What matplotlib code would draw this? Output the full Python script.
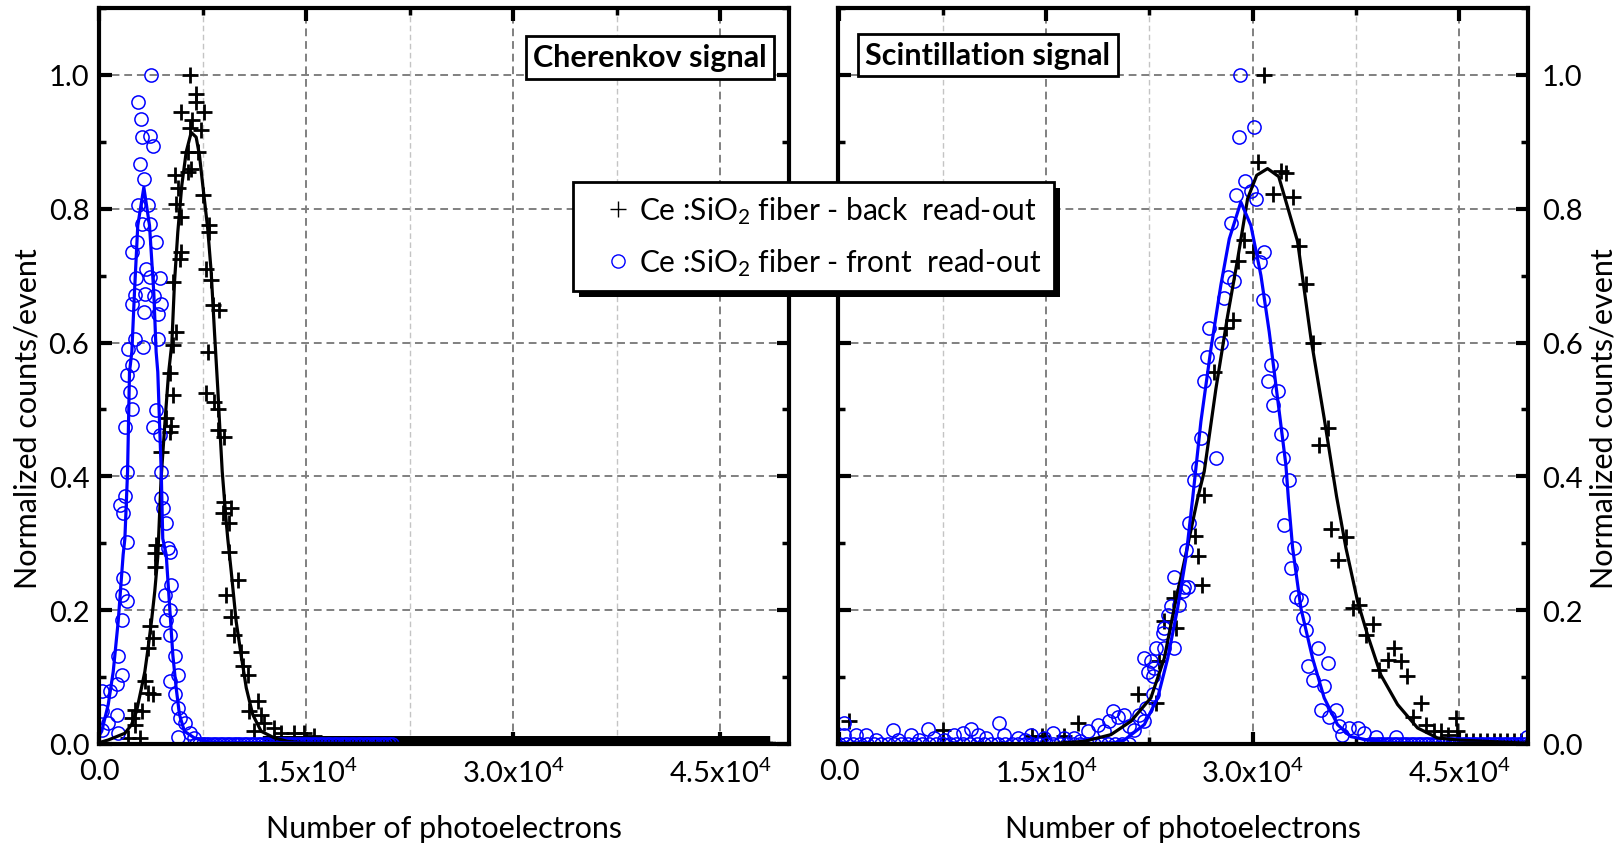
import matplotlib
matplotlib.use('Agg')
import matplotlib.pyplot as plt
from matplotlib.ticker import MultipleLocator, FixedLocator, FixedFormatter, FormatStrFormatter
from matplotlib.patches import Rectangle
from matplotlib.lines import Line2D

plt.rcParams['font.family'] = ['Lato', 'DejaVu Sans']
plt.rcParams['mathtext.fontset'] = 'custom'
plt.rcParams['mathtext.rm'] = 'Lato'
plt.rcParams['mathtext.it'] = 'Lato:italic'
plt.rcParams['mathtext.bf'] = 'Lato:bold'

# ---------------- data: Cherenkov signal (left panel) ----------------
ch_front_x = [195, 195, 195, 670, 790, 1275, 1275, 1390, 1390, 1635, 1635, 1635, 1750, 2000, 2000,
              1515, 1750, 1875, 2000, 1875, 2000, 2235, 2360, 2360, 2110, 2600, 2360, 2600, 2670,
              2360, 2720, 2790, 3080, 2960, 3245, 3030, 2790, 3150, 3800, 3680, 3920, 3555, 3680,
              4160, 3440, 3680, 4400, 3320, 3990, 3270, 4470, 4280, 3200, 4280, 4160, 3920, 4400,
              4520, 4520, 4640, 4880, 5000, 5120, 5240, 4760, 5120, 4880, 5120, 5480, 5720, 5120,
              5480, 5720, 5840, 6200, 6560, 5720, 6920]
ch_front_y = [0.079, 0.049, 0.021, 0.031, 0.079, 0.089, 0.044, 0.016, 0.131, 0.103, 0.186, 0.223, 0.248,
              0.213, 0.302, 0.357, 0.345, 0.370, 0.407, 0.474, 0.551, 0.526, 0.500, 0.566, 0.591,
              0.606, 0.658, 0.671, 0.696, 0.736, 0.751, 0.805, 0.777, 0.867, 0.844, 0.934, 0.959,
              0.907, 1.000, 0.909, 0.894, 0.805, 0.777, 0.750, 0.710, 0.698, 0.696, 0.673, 0.669,
              0.646, 0.658, 0.643, 0.593, 0.606, 0.499, 0.474, 0.462, 0.407, 0.367, 0.352, 0.330,
              0.293, 0.287, 0.238, 0.223, 0.200, 0.186, 0.163, 0.131, 0.103, 0.094, 0.074, 0.054,
              0.039, 0.031, 0.016, 0.011, 0.009]
# empty bins (count 0) of the front read-out, Cherenkov
ch_front_zero_x = [7000, 7250, 7500, 7750, 8000, 8250, 8500, 8750, 9000, 9250, 9500, 9750,
                   10000, 10250, 10500, 10750, 11000, 11250, 11500, 11750, 12000, 12250, 12500,
                   12750, 13000, 13250, 13500, 13750, 14000, 14250, 14500, 14750, 15000, 15250,
                   15500, 15750, 16000, 16250, 16500, 16750, 17000, 17250, 17500, 17750, 18000,
                   18250, 18500, 18750, 19000, 19250, 19500, 19750, 20000, 20250, 20500, 20750,
                   21000, 21250]

ch_back_x = [6630, 7040, 7040, 5910, 7640, 6730, 6560, 7400, 6440, 7160, 6680, 5480, 6440, 5720, 7520,
             5600, 5910, 8000, 8000, 5910, 5840, 7760, 8120, 5360, 8240, 8720, 5600, 5360, 7880,
             5120, 5360, 7760, 8360, 8600, 4880, 5190, 5120, 8600, 9080, 4520, 9080, 9570, 8960,
             9450, 4160, 4040, 9450, 4040, 10045, 9210, 9570, 3680, 3920, 3555, 9810, 10290, 10400,
             10770, 3320, 3555, 3920, 11490, 10890, 11730, 2600, 3080, 2360, 11970, 12690, 13170,
             2600, 2960, 11250, 14130, 14850, 2110, 15570]
ch_back_y = [1.000, 0.972, 0.960, 0.945, 0.945, 0.932, 0.920, 0.917, 0.885, 0.885, 0.860, 0.850, 0.855,
             0.831, 0.820, 0.807, 0.788, 0.775, 0.765, 0.735, 0.725, 0.710, 0.693, 0.690, 0.656,
             0.648, 0.616, 0.596, 0.586, 0.554, 0.521, 0.524, 0.511, 0.501, 0.487, 0.476, 0.466,
             0.469, 0.459, 0.437, 0.362, 0.352, 0.345, 0.330, 0.297, 0.285, 0.287, 0.265, 0.245,
             0.223, 0.190, 0.176, 0.158, 0.143, 0.163, 0.138, 0.116, 0.103, 0.094, 0.076, 0.074,
             0.064, 0.049, 0.044, 0.051, 0.049, 0.039, 0.031, 0.024, 0.016, 0.029, 0.009, 0.019,
             0.016, 0.016, 0.009, 0.012]
# empty bins (count 0) of the back read-out, Cherenkov
ch_back_zero_x = [12000, 12250, 12500, 12750, 13000, 13250, 13500, 13750, 14000, 14250, 14500, 14750,
                  15000, 15250, 15500, 15750, 16000, 16250, 16500, 16750, 17000, 17250, 17500, 17750,
                  18000, 18250, 18500, 18750, 19000, 19250, 19500, 19750, 20000, 20250, 20500, 20750,
                  21000, 21250, 21500, 21750, 22000, 22250, 22500, 22750, 23000, 23250, 23500, 23750,
                  24000, 24250, 24500, 24750, 25000, 25250, 25500, 25750, 26000, 26250, 26500, 26750,
                  27000, 27250, 27500, 27750, 28000, 28250, 28500, 28750, 29000, 29250, 29500, 29750,
                  30000, 30250, 30500, 30750, 31000, 31250, 31500, 31750, 32000, 32250, 32500, 32750,
                  33000, 33250, 33500, 33750, 34000, 34250, 34500, 34750, 35000, 35250, 35500, 35750,
                  36000, 36250, 36500, 36750, 37000, 37250, 37500, 37750, 38000, 38250, 38500, 38750,
                  39000, 39250, 39500, 39750, 40000, 40250, 40500, 40750, 41000, 41250, 41500, 41750,
                  42000, 42250, 42500, 42750, 43000, 43250, 43500, 43750, 44000, 44250, 44500, 44750,
                  45000, 45250, 45500, 45750, 46000, 46250, 46500, 46750, 47000, 47250, 47500, 47750,
                  48000, 48250, 48500]

ch_back_fit_x = [0, 670, 1875, 2360, 2720, 3080, 3320, 3555, 3800, 4040, 4260, 4500, 4800, 5040, 5280,
                 5470, 5710, 6000, 6320, 6680, 7040, 7280, 7520, 7880, 8130, 8370, 8610, 8730, 8930,
                 9220, 9330, 9580, 9940, 10300, 10670, 11140, 11750, 12720, 13650, 15000, 50000]
ch_back_fit_y = [0.002, 0.006, 0.016, 0.029, 0.049, 0.084, 0.108, 0.143, 0.183, 0.228, 0.280, 0.397,
                 0.487, 0.554, 0.599, 0.690, 0.765, 0.835, 0.885, 0.914, 0.907, 0.880, 0.835, 0.770,
                 0.705, 0.615, 0.530, 0.482, 0.407, 0.332, 0.307, 0.258, 0.183, 0.133, 0.084, 0.044,
                 0.019, 0.009, 0.004, 0.001, 0.0]

ch_front_fit_x = [0, 195, 670, 1030, 1390, 1750, 1875, 2070, 2210, 2380, 2570, 2810, 3250, 3660, 3970,
                  4140, 4260, 4510, 4620, 4870, 5110, 5350, 5590, 5830, 6190, 6920, 8000, 21200]
ch_front_fit_y = [0.012, 0.019, 0.059, 0.108, 0.183, 0.283, 0.307, 0.407, 0.556, 0.586, 0.675, 0.775,
                  0.832, 0.775, 0.675, 0.586, 0.556, 0.407, 0.307, 0.283, 0.208, 0.133, 0.084, 0.044,
                  0.019, 0.009, 0.003, 0.0]

# ---------------- data: Scintillation signal (right panel) ----------------
sc_back_x = [30825, 30370, 32060, 32420, 31460, 32910, 29400, 30000, 33390, 28920, 33870, 28550, 28070,
             34360, 27220, 35450, 34840, 26490, 25810, 26020, 26300, 35690, 36780, 36170, 37260,
             37740, 38710, 38230, 40280, 39800, 40770, 39190, 41250, 42220, 41620, 42580, 44760,
             43190, 43670, 44160, 44880, 730, 17300, 21660, 23230, 23590, 24310, 24440, 7500,
             14000, 14700, 16300, 22990,
             45500, 46000, 46500, 47000, 47500, 48000, 48500, 49000, 49500]
sc_back_y = [1.000, 0.870, 0.857, 0.854, 0.822, 0.817, 0.754, 0.736, 0.744, 0.722, 0.687, 0.633, 0.621,
             0.599, 0.556, 0.472, 0.447, 0.372, 0.311, 0.281, 0.237, 0.322, 0.310, 0.275, 0.203,
             0.208, 0.179, 0.163, 0.143, 0.126, 0.124, 0.111, 0.101, 0.061, 0.041, 0.029, 0.039,
             0.019, 0.019, 0.014, 0.019, 0.034, 0.031, 0.074, 0.124, 0.184, 0.218, 0.173, 0.021,
             0.012, 0.012, 0.012, 0.061,
             0.004, 0.004, 0.004, 0.004, 0.004, 0.004, 0.004, 0.004, 0.004]

sc_front_x = [360, 360, 1210, 1940, 2660, 3880, 4250, 5200, 5800, 6420, 6900, 7600, 8350, 8960, 9560,
              10040, 10650, 11610, 11980, 12950, 13500, 13910, 14880, 15490, 16330, 17060, 17500,
              18030, 18750, 19230, 19600, 19840, 20210, 20690, 21050, 21410, 21770, 22140, 22260,
              22740, 22140, 22380, 22740, 22860, 22990, 23470, 23590, 23840, 24310, 24070, 24310,
              24920, 25290, 25040, 24680, 23590, 22620, 25170, 25410,
              26250, 26010, 25770, 26490, 26690, 26860, 27700, 27340, 27940, 28190, 28630, 28430,
              28790, 29450, 29880, 30240, 29030, 30070, 29120, 30850, 30560, 30770, 31330, 31090,
              31820, 31460, 32060, 32180, 32660, 32300, 33020, 32780, 33150, 33510, 33630, 33870,
              34720, 35450, 33990, 34360, 35200, 34960, 36050, 35570, 36290, 37020, 37630, 36530,
              38110, 38960, 40410, 49960]
sc_front_y = [0.031, 0.014, 0.014, 0.014, 0.006, 0.021, 0.006, 0.014, 0.006, 0.023, 0.009, 0.006, 0.014,
              0.016, 0.023, 0.014, 0.009, 0.031, 0.014, 0.009, 0.006, 0.014, 0.009, 0.016, 0.009,
              0.009, 0.004, 0.019, 0.029, 0.019, 0.034, 0.049, 0.041, 0.044, 0.027, 0.021, 0.044,
              0.034, 0.054,
              0.074, 0.128, 0.108, 0.101, 0.113, 0.143, 0.166, 0.173, 0.193, 0.143, 0.206, 0.250,
              0.228, 0.235, 0.235, 0.208, 0.143, 0.124, 0.290, 0.330,
              0.457, 0.414, 0.394, 0.543, 0.579, 0.621, 0.599, 0.428, 0.666, 0.698, 0.692, 0.778,
              0.821, 0.842, 0.827, 0.815, 0.907, 0.922, 1.000, 0.735, 0.720, 0.664, 0.567, 0.542,
              0.528, 0.507, 0.464, 0.427, 0.394, 0.327, 0.293, 0.263, 0.220, 0.215, 0.188, 0.171,
              0.143, 0.121, 0.116, 0.096, 0.086, 0.051, 0.051, 0.041, 0.027, 0.024, 0.024, 0.014,
              0.016, 0.011, 0.011, 0.011]
# empty bins (count 0) of the front read-out, scintillation
sc_front_zero_x = [0, 500, 1000, 1500, 2000, 2500, 3000, 3500, 4000, 4500, 5000, 5500, 6000, 6500,
                   7000, 7500, 8000, 8500, 9000, 9500, 10000, 10500, 11000, 11500, 12000, 12500,
                   13000, 13500, 14000, 14500, 15000, 15500, 16000, 16500, 17000, 17500, 18000,
                   18500, 19000, 19500, 20000, 20500, 21000,
                   38500, 38750, 39000, 39250, 39500, 39750, 40000, 40250, 40500, 40750, 41000,
                   41250, 41500, 41750, 42000, 42250, 42500, 42750, 43000, 43250, 43500, 43750,
                   44000, 44250, 44500, 44750, 45000, 45250, 45500, 45750, 46000, 46250, 46500,
                   46750, 47000, 47250, 47500, 47750, 48000, 48250, 48500, 48750, 49000, 49250,
                   49500, 49750]

sc_back_fit_x = [0, 15000, 17780, 19720, 21170, 22620, 23590, 24310, 25100, 26010, 26490, 27340, 28190,
                 28920, 29640, 30300, 31090, 31900, 33270, 34240, 35200, 36100, 36780, 37630, 38350,
                 39320, 40530, 41980, 43430, 44880, 50000]
sc_back_fit_y = [0.0, 0.0, 0.004, 0.014, 0.034, 0.069, 0.128, 0.203, 0.278, 0.367, 0.407, 0.531, 0.640,
                 0.725, 0.815, 0.850, 0.860, 0.848, 0.751, 0.606, 0.487, 0.370, 0.293, 0.213, 0.163,
                 0.103, 0.059, 0.024, 0.009, 0.006, 0.001]

sc_front_fit_x = [0, 18000, 20000, 20690, 22140, 23110, 23840, 24560, 25160, 25650, 26250, 26980, 27700,
                  28310, 29150, 29880, 30610, 31210, 31820, 32420, 32600, 32910, 33510, 34360, 35200,
                  36170, 37140, 38350, 40000, 50000]
sc_front_fit_y = [0.0, 0.0, 0.002, 0.006, 0.029, 0.069, 0.128, 0.203, 0.278, 0.367, 0.482, 0.591, 0.686,
                  0.755, 0.810, 0.775, 0.700, 0.616, 0.516, 0.417, 0.367, 0.293, 0.203, 0.128, 0.069,
                  0.029, 0.011, 0.006, 0.002, 0.0]

x_tick_vals = [0, 15000, 30000, 45000]
x_tick_labels = ['0.0', r'1.5x10$^4$', r'3.0x10$^4$', r'4.5x10$^4$']
x_minor_vals = [7500, 22500, 37500]
legend_labels = ['Ce :SiO$_2$ fiber - back  read-out', 'Ce :SiO$_2$ fiber - front  read-out']

# ---------------- figure ----------------
W, H = 1621, 845
fig = plt.figure(figsize=(W / 100, H / 100), dpi=100)
ax1 = fig.add_axes([99 / W, 1 - 745 / H, 690 / W, 736 / H])
ax2 = fig.add_axes([838 / W, 1 - 745 / H, 690 / W, 736 / H])

BLUE = '#0000ff'
plus_kw = dict(ls='none', marker='+', color='black', ms=11, mew=2.0, zorder=3)
plus_zero_kw = dict(plus_kw, mew=3.2)
circ_kw = dict(ls='none', marker='o', mfc='none', mec=BLUE, ms=9.5, mew=1.1, zorder=3)

ax1.plot(ch_back_x, ch_back_y, **plus_kw)
ax1.plot(ch_back_zero_x, [0.0] * len(ch_back_zero_x), **plus_zero_kw)
ax1.plot(ch_front_x, ch_front_y, **circ_kw)
ax1.plot(ch_front_zero_x, [0.0] * len(ch_front_zero_x), **circ_kw)
ax1.plot(ch_back_fit_x, ch_back_fit_y, color='black', lw=2.3, zorder=4)
ax1.plot(ch_front_fit_x, ch_front_fit_y, color=BLUE, lw=2.3, zorder=4)

ax2.plot(sc_back_x, sc_back_y, **plus_kw)
ax2.plot(sc_front_x, sc_front_y, **circ_kw)
ax2.plot(sc_front_zero_x, [0.0] * len(sc_front_zero_x), **circ_kw)
ax2.plot(sc_back_fit_x, sc_back_fit_y, color='black', lw=2.3, zorder=4)
ax2.plot(sc_front_fit_x, sc_front_fit_y, color=BLUE, lw=2.3, zorder=4)


def style(ax, xmin):
    ax.set_xlim(xmin, 50000)
    ax.set_ylim(0, 1.1)
    ax.xaxis.set_major_locator(FixedLocator(x_tick_vals))
    ax.xaxis.set_major_formatter(FixedFormatter(x_tick_labels))
    ax.xaxis.set_minor_locator(FixedLocator(x_minor_vals))
    ax.yaxis.set_major_locator(MultipleLocator(0.2))
    ax.yaxis.set_minor_locator(MultipleLocator(0.1))
    ax.yaxis.set_major_formatter(FormatStrFormatter('%.1f'))
    ax.tick_params(which='both', direction='in', top=True, right=True, left=True, bottom=True)
    ax.tick_params(which='major', length=9, width=3, labelsize=21)
    ax.tick_params(axis='x', which='major', pad=10)
    ax.tick_params(axis='y', which='major', pad=7)
    ax.tick_params(which='minor', length=5, width=2.5)
    ax.grid(which='major', color='#808080', linestyle=(0, (4, 2.5)), linewidth=1.4)
    ax.grid(which='minor', axis='x', color='#c4c4c4', linestyle=(0, (4, 2.5)), linewidth=1.0)
    ax.set_axisbelow(True)
    for s in ax.spines.values():
        s.set_linewidth(3)
        s.set_zorder(5)
    ax.set_xlabel('Number of photoelectrons', fontsize=22)
    ax.set_ylabel('Normalized counts/event', fontsize=22)
    ax.xaxis.set_label_coords(0.5, -0.095)


style(ax1, 0)
style(ax2, -100)
ax2.tick_params(axis='y', labelleft=False, labelright=True, pad=10)
ax2.yaxis.set_label_position('right')
ax1.yaxis.set_label_coords(-0.083, 0.443)
ax2.yaxis.set_label_coords(1.089, 0.443)

box_kw = dict(boxstyle='square,pad=0.24', fc='white', ec='black', lw=2)
ax1.text(0.799, 0.933, 'Cherenkov signal', transform=ax1.transAxes, ha='center', va='center',
         fontsize=22, fontweight='bold', bbox=box_kw, zorder=6)
ax2.text(0.217, 0.936, 'Scintillation signal', transform=ax2.transAxes, ha='center', va='center',
         fontsize=22, fontweight='bold', bbox=box_kw, zorder=6)

handles = [Line2D([], [], ls='none', marker='+', color='black', ms=12, mew=1.0),
           Line2D([], [], ls='none', marker='o', mfc='none', mec=BLUE, ms=9.5, mew=1.0)]
leg = fig.legend(handles, legend_labels, loc='upper left', bbox_to_anchor=(573 / W, 1 - 183 / H),
                 fontsize=21.5, frameon=True, fancybox=False, edgecolor='black', framealpha=1,
                 handletextpad=-0.4, borderpad=0.42, labelspacing=0.68, handlelength=2.2,
                 borderaxespad=0)
leg.get_frame().set_linewidth(2)
leg.set_zorder(10)

fig.canvas.draw()
bb = leg.get_window_extent().transformed(fig.transFigure.inverted())
dx, dy = 6 / W, 6 / H
shadow = Rectangle((bb.x0 + dx, bb.y0 - dy), bb.width, bb.height, transform=fig.transFigure,
                   facecolor='black', edgecolor='none', zorder=9)
fig.add_artist(shadow)

fig.savefig('out.png', dpi=100)
